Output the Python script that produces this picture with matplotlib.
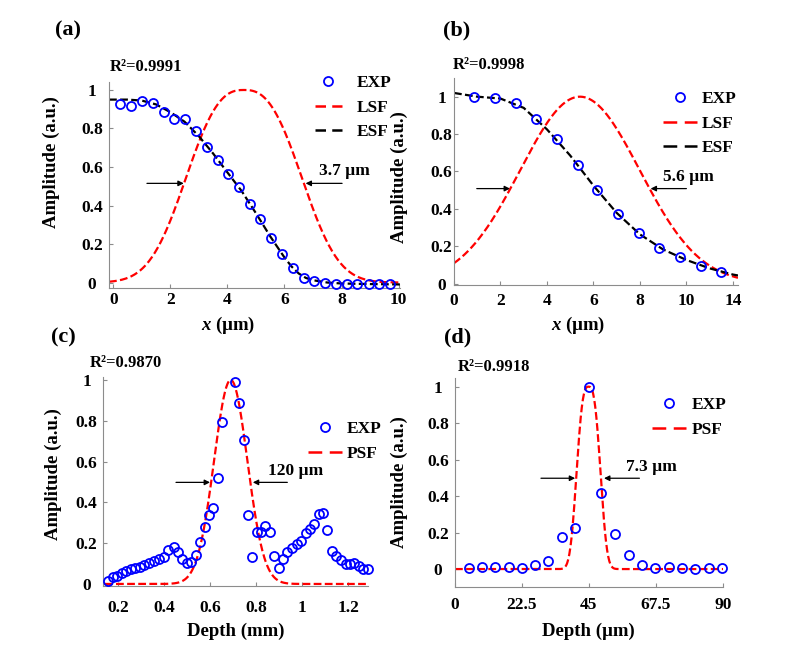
import numpy as np
import matplotlib.pyplot as plt
from matplotlib.lines import Line2D

plt.rcParams['font.family'] = 'Liberation Serif'
plt.rcParams['font.weight'] = 'bold'
plt.rcParams['mathtext.fontset'] = 'custom'
plt.rcParams['mathtext.it'] = 'Liberation Serif:italic:bold'
plt.rcParams['mathtext.rm'] = 'Liberation Serif:bold'

W, H = 794, 655

# (a) edge scan, 3.7 um
a_exp_x = [0.25, 0.63, 1.01, 1.39, 1.77, 2.14, 2.53, 2.90, 3.27, 3.66, 4.03, 4.41, 4.78,
           5.16, 5.53, 5.92, 6.29, 6.67, 7.04, 7.43, 7.80, 8.18, 8.56, 8.95, 9.33, 9.70]
a_exp_y = [0.926, 0.917, 0.943, 0.931, 0.886, 0.849, 0.848, 0.785, 0.705, 0.636, 0.564, 0.498, 0.408,
           0.328, 0.230, 0.146, 0.077, 0.025, 0.008, -0.003, -0.006, -0.006, -0.006, -0.008, -0.010, -0.010]
a_esf_x = [-0.15, 0.5, 1.0, 1.5, 2.0, 2.5, 3.0, 3.5, 4.0, 4.5, 5.0, 5.5, 6.0, 6.25, 6.5, 6.75, 7.0, 7.5, 8.0, 9.0, 10.05]
a_esf_y = [0.95, 0.95, 0.945, 0.925, 0.885, 0.835, 0.76, 0.67, 0.572, 0.475, 0.36, 0.24, 0.13, 0.083, 0.047,
           0.024, 0.012, 0.0, -0.005, -0.008, -0.01]
a_lsf = dict(x0=4.58, hw=2.135, p=2.6)

# (b) edge scan, 5.6 um
b_exp_x = [0.86, 1.75, 2.65, 3.53, 4.43, 5.32, 6.16, 7.05, 7.94, 8.83, 9.72, 10.61, 11.51]
b_exp_y = [1.0, 0.995, 0.968, 0.881, 0.772, 0.636, 0.498, 0.371, 0.268, 0.192, 0.140, 0.096, 0.061]
b_esf_x = [0, 1, 2, 3, 4, 5, 6, 7, 8, 9, 10, 11, 12, 12.22]
b_esf_y = [1.02, 1.0, 0.99, 0.94, 0.825, 0.685, 0.524, 0.378, 0.263, 0.182, 0.126, 0.081, 0.048, 0.043]
b_lsf = dict(x0=5.42, hw=3.03, p=2.0)
b_ticks = [0, 2, 4, 6, 8, 10, 12]
b_ticklabels = ['0', '2', '4', '6', '8', '10', '14']

# (c) depth profile, mm
c_exp_x = [0.155, 0.177, 0.197, 0.217, 0.235, 0.255, 0.274, 0.294, 0.314, 0.335, 0.357, 0.378, 0.399,
           0.419, 0.442, 0.461, 0.480, 0.499, 0.519, 0.538, 0.558, 0.577, 0.594, 0.613, 0.633, 0.652,
           0.709, 0.728, 0.749, 0.764, 0.784, 0.803, 0.823, 0.841, 0.861, 0.880, 0.900, 0.919, 0.936,
           0.957, 0.977, 0.997, 1.016, 1.036, 1.052, 1.073, 1.093, 1.107, 1.129, 1.148, 1.170, 1.190,
           1.209, 1.226, 1.246, 1.264, 1.287]
c_exp_y = [0.016, 0.032, 0.040, 0.052, 0.062, 0.071, 0.078, 0.084, 0.094, 0.104, 0.112, 0.120, 0.133,
           0.166, 0.179, 0.158, 0.120, 0.101, 0.107, 0.142, 0.205, 0.280, 0.337, 0.371, 0.519, 0.796,
           0.988, 0.889, 0.705, 0.340, 0.133, 0.254, 0.256, 0.283, 0.256, 0.138, 0.078, 0.124, 0.155,
           0.174, 0.194, 0.210, 0.249, 0.269, 0.293, 0.342, 0.349, 0.264, 0.164, 0.135, 0.119, 0.098,
           0.096, 0.104, 0.086, 0.072, 0.075]
c_psf = dict(x0=0.69, hw=0.085, p=2.0)
c_ticks = [0.2, 0.4, 0.6, 0.8, 1.0, 1.2]
c_ticklabels = ['0.2', '0.4', '0.6', '0.8', '1', '1.2']

# (d) depth profile, um
d_exp_x = [4.6, 9.1, 13.5, 18.0, 22.5, 27.0, 31.4, 35.9, 40.5, 45.0, 49.2, 53.9, 58.4, 62.9, 67.4,
           71.9, 76.3, 80.8, 85.4, 89.9]
d_exp_y = [0.007, 0.014, 0.014, 0.014, 0.007, 0.02, 0.042, 0.175, 0.226, 1.0, 0.416, 0.192, 0.078,
           0.02, 0.007, 0.011, 0.007, 0.003, 0.007, 0.007]
d_psf = dict(x0=44.9, hw=4.15, p=2.9)
d_ticks = [0, 22.5, 45, 67.5, 90]
d_ticklabels = ['0', '22.5', '45', '67.5', '90']

amp_ticks = [0, 0.2, 0.4, 0.6, 0.8, 1.0]
amp_labels = ['0', '0.2', '0.4', '0.6', '0.8', '1']

RED = '#ff0000'
BLUE = '#0000ff'
FS = 12.5
MS = 6.5


def peak(x, x0, hw, p):
    # fitted line spread profile, hw = half width at half maximum
    return np.exp(-np.log(2) * (np.abs(x - x0) / hw) ** p)


def px_axes(l, t, r, b):
    return fig.add_axes([l / W, 1 - b / H, (r - l) / W, (b - t) / H])


def style(ax, ypad, xpad):
    for s in ['top', 'right']:
        ax.spines[s].set_visible(False)
    for s in ['left', 'bottom']:
        ax.spines[s].set_color('#8c8c8c')
        ax.spines[s].set_linewidth(0.8)
    ax.tick_params(direction='in', length=3, width=0.8, color='#8c8c8c', labelsize=FS)
    ax.tick_params(axis='y', pad=ypad)
    ax.tick_params(axis='x', pad=xpad)
    ax.set_yticks(amp_ticks)
    ax.set_yticklabels(amp_labels, fontweight='bold')
    for lbl in ax.get_yticklabels():
        lbl.set_ha('center')


def exp_points(ax, x, y):
    ax.plot(x, y, 'o', ms=MS, mfc='none', mec=BLUE, mew=1.3, clip_on=False, zorder=3)


def fwhm_arrows(ax, xl0, xl1, xr0, xr1, y, text, tx, ty):
    kw = dict(arrowstyle='-|>', color='black', lw=0.9, mutation_scale=8, shrinkA=0, shrinkB=0)
    ax.annotate('', xy=(xl1, y), xytext=(xl0, y), arrowprops=kw)
    ax.annotate('', xy=(xr1, y), xytext=(xr0, y), arrowprops=kw)
    ax.text(tx, ty, text, ha='center', va='center', fontsize=FS, fontweight='bold')


def legend(ax, names, colors, x, y, hlen, pad, dashes):
    hs = [Line2D([], [], ls='none', marker='o', ms=MS, mfc='none', mec=BLUE, mew=1.3)]
    for c in colors:
        hs.append(Line2D([], [], color=c, lw=1.8, dashes=dashes))
    ax.legend(hs, names, loc='upper left', bbox_to_anchor=(x / W, 1 - y / H),
              bbox_transform=fig.transFigure, frameon=False, borderpad=0, borderaxespad=0,
              handlelength=hlen, handletextpad=pad, labelspacing=0.48, numpoints=1,
              prop=dict(family='Liberation Serif', weight='bold', size=FS))


fig = plt.figure(figsize=(W / 100, H / 100), dpi=100)

# ---- (a)
ax = px_axes(109, 81.7, 400, 288.3)
xs = np.linspace(-0.15, 10.05, 400)
ax.plot(xs, peak(xs, **a_lsf), color=RED, lw=1.6, dashes=(3.5, 1.5))
ax.plot(a_esf_x, a_esf_y, color='black', lw=1.6, dashes=(3.5, 1.5))
exp_points(ax, a_exp_x, a_exp_y)
ax.set_xlim(-0.15, 10.05)
ax.set_ylim(-0.03, 1.043)
ax.set_xticks([0, 2, 4, 6, 8, 10])
style(ax, 12.2, 3)
ax.set_xlabel('$x$ (µm)', fontsize=13.5, fontweight='bold')
ax.xaxis.set_label_coords(0.41, -0.13)
ax.set_ylabel('Amplitude (a.u.)', fontsize=13.5, fontweight='bold')
ax.yaxis.set_label_coords(-0.168, 0.61)
fwhm_arrows(ax, 1.18, 2.47, 8.02, 6.74, 0.515, '3.7 µm', 8.1, 0.58)
legend(ax, ['EXP', 'LSF', 'ESF'], [RED, 'black'], 315, 75, 1.55, 0.85, (4.2, 2.5))
fig.text(68 / W, 1 - 30 / H, '(a)', fontsize=16, fontweight='bold', ha='center', va='center')
fig.text(110 / W, 1 - 67 / H, 'R²=0.9991', fontsize=12, fontweight='bold', ha='left', va='center')

# ---- (b)
ax = px_axes(454, 78, 738, 285)
xs = np.linspace(0, 12.22, 400)
ax.plot(xs, peak(xs, **b_lsf), color=RED, lw=1.6, dashes=(3.5, 1.5))
ax.plot(b_esf_x, b_esf_y, color='black', lw=1.6, dashes=(3.5, 1.5))
exp_points(ax, b_exp_x, b_exp_y)
ax.set_xlim(0, 12.22)
ax.set_ylim(-0.008, 1.1)
ax.set_xticks(b_ticks)
ax.set_xticklabels(b_ticklabels, fontweight='bold')
style(ax, 9, 6)
ax.set_xlabel('$x$ (µm)', fontsize=13.5, fontweight='bold')
ax.xaxis.set_label_coords(0.437, -0.145)
ax.set_ylabel('Amplitude (a.u.)', fontsize=13.5, fontweight='bold')
ax.yaxis.set_label_coords(-0.162, 0.523)
fwhm_arrows(ax, 0.98, 2.41, 10.0, 8.46, 0.508, '5.6 µm', 10.07, 0.57)
legend(ax, ['EXP', 'LSF', 'ESF'], [RED, 'black'], 663, 91, 1.95, 0.3, (5.5, 3))
fig.text(457 / W, 1 - 30 / H, '(b)', fontsize=16, fontweight='bold', ha='center', va='center')
fig.text(453 / W, 1 - 65 / H, 'R²=0.9998', fontsize=12, fontweight='bold', ha='left', va='center')

# ---- (c)
ax = px_axes(103.3, 376.7, 368.3, 586)
xs = np.linspace(0.143, 1.281, 400)
ax.plot(xs, peak(xs, **c_psf), color=RED, lw=1.6, dashes=(3.5, 1.5))
exp_points(ax, c_exp_x, c_exp_y)
ax.set_xlim(0.136, 1.288)
ax.set_ylim(-0.01, 1.016)
ax.set_xticks(c_ticks)
ax.set_xticklabels(c_ticklabels, fontweight='bold')
style(ax, 12, 10)
ax.set_xlabel('Depth (mm)', fontsize=13.5, fontweight='bold')
ax.xaxis.set_label_coords(0.5, -0.177)
ax.set_ylabel('Amplitude (a.u.)', fontsize=13.5, fontweight='bold')
ax.yaxis.set_label_coords(-0.157, 0.535)
fwhm_arrows(ax, 0.452, 0.6, 0.936, 0.786, 0.498, '120 µm', 0.972, 0.555)
legend(ax, ['EXP', 'PSF'], [RED], 308, 421, 1.95, 0.3, (5.5, 3))
fig.text(63 / W, 1 - 337 / H, '(c)', fontsize=16, fontweight='bold', ha='center', va='center')
fig.text(90 / W, 1 - 363 / H, 'R²=0.9870', fontsize=12, fontweight='bold', ha='left', va='center')

# ---- (d)
ax = px_axes(455, 378.3, 722.7, 587.3)
xs = np.linspace(0, 90.5, 500)
ax.plot(xs, peak(xs, **d_psf), color=RED, lw=1.6, dashes=(3.5, 1.5))
exp_points(ax, d_exp_x, d_exp_y)
ax.set_xlim(0, 90)
ax.set_ylim(-0.1, 1.046)
ax.set_xticks(d_ticks)
ax.set_xticklabels(d_ticklabels, fontweight='bold')
style(ax, 12.2, 7)
ax.set_xlabel('Depth (µm)', fontsize=13.5, fontweight='bold')
ax.xaxis.set_label_coords(0.5, -0.171)
ax.set_ylabel('Amplitude (a.u.)', fontsize=13.5, fontweight='bold')
ax.yaxis.set_label_coords(-0.176, 0.505)
fwhm_arrows(ax, 28.9, 40.4, 62.0, 50.1, 0.498, '7.3 µm', 65.9, 0.56)
legend(ax, ['EXP', 'PSF'], [RED], 652, 397, 1.95, 0.35, (5.5, 3))
fig.text(458 / W, 1 - 337 / H, '(d)', fontsize=16, fontweight='bold', ha='center', va='center')
fig.text(458 / W, 1 - 367 / H, 'R²=0.9918', fontsize=12, fontweight='bold', ha='left', va='center')

fig.savefig('out.png', dpi=100)
